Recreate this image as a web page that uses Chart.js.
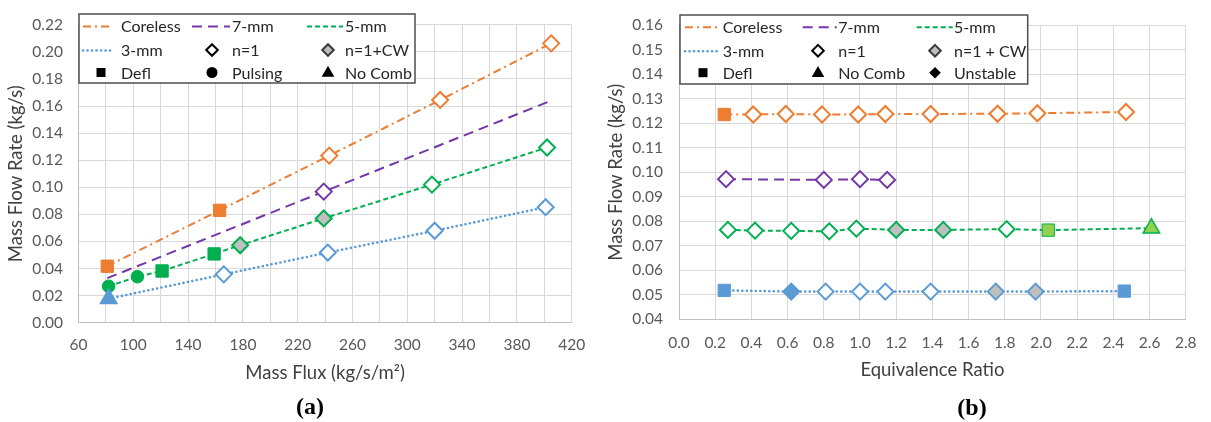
<!DOCTYPE html>
<html>
<head>
<meta charset="utf-8">
<script src="https://cdn.jsdelivr.net/npm/chart.js@4.4.1/dist/chart.umd.min.js"></script>
<style>
  html, body { margin: 0; padding: 0; background: #ffffff; }
  #wrap { position: relative; width: 1211px; height: 422px; overflow: hidden; }
  canvas { position: absolute; top: 0; }
  #chartA { left: 0; }
  #chartB { left: 600px; }
  .tag {
    position: absolute;
    font-family: 'Liberation Serif', 'Times New Roman', serif;
    font-weight: bold;
    font-size: 24px;
    line-height: 24px;
    color: #000;
    transform: translate(-50%, -50%);
    white-space: nowrap;
  }
</style>
</head>
<body>
<div id="wrap">
  <canvas id="chartA" width="600" height="422"></canvas>
  <canvas id="chartB" width="611" height="422"></canvas>
  <div class="tag" style="left:310px; top:406px;">(a)</div>
  <div class="tag" style="left:972px; top:407px;">(b)</div>
</div>
<script>
// ---------- (a) mass flow rate vs mass flux ----------
const fluxCoreless  = [81, 163, 243, 324, 405];
const rateCorelessA = [0.0417, 0.0830, 0.1234, 0.1645, 0.2063];
const markCorelessA = ['Defl', 'Defl', 'n=1', 'n=1', 'n=1'];

const flux7mm  = [81, 239, 405];
const rate7mmA = [0.0329, 0.0968, 0.1640];
const mark7mmA = [null, 'n=1', null];

const flux5mm  = [82, 103, 121, 159, 178, 239, 318, 402];
const rate5mmA = [0.0269, 0.0340, 0.0382, 0.0508, 0.0572, 0.0770, 0.1020, 0.1294];
const mark5mmA = ['Pulsing', 'Pulsing', 'Defl', 'Defl', 'n=1+CW', 'n=1+CW', 'n=1', 'n=1'];

const flux3mm  = [82, 166, 242, 320, 401];
const rate3mmA = [0.0177, 0.0357, 0.0518, 0.0679, 0.0853];
const mark3mmA = ['No Comb', 'n=1', 'n=1', 'n=1', 'n=1'];

// ---------- (b) mass flow rate vs equivalence ratio ----------
const phiCoreless   = [0.25, 0.41, 0.59, 0.79, 0.99, 1.14, 1.39, 1.76, 1.98, 2.47];
const rateCorelessB = [0.1236, 0.1236, 0.1238, 0.1236, 0.1236, 0.1238, 0.1238, 0.1239, 0.1241, 0.1246];
const markCorelessB = ['Defl', 'n=1', 'n=1', 'n=1', 'n=1', 'n=1', 'n=1', 'n=1', 'n=1', 'n=1'];

const phi7mm   = [0.26, 0.80, 1.00, 1.15];
const rate7mmB = [0.0972, 0.0969, 0.0972, 0.0969];
const mark7mmB = ['n=1', 'n=1', 'n=1', 'n=1'];

const phi5mm   = [0.27, 0.42, 0.62, 0.83, 0.98, 1.20, 1.46, 1.81, 2.04, 2.61];
const rate5mmB = [0.0765, 0.0762, 0.0761, 0.0759, 0.0770, 0.0765, 0.0765, 0.0768, 0.0764, 0.0772];
const mark5mmB = ['n=1', 'n=1', 'n=1', 'n=1', 'n=1', 'n=1+CW', 'n=1+CW', 'n=1', 'Defl', 'No Comb'];

const phi3mm   = [0.25, 0.62, 0.81, 1.00, 1.14, 1.39, 1.75, 1.97, 2.46];
const rate3mmB = [0.0518, 0.0513, 0.0513, 0.0513, 0.0513, 0.0513, 0.0513, 0.0513, 0.0515];
const mark3mmB = ['Defl', 'Unstable', 'n=1', 'n=1', 'n=1', 'n=1', 'n=1+CW', 'n=1+CW', 'Defl'];

// ---------- axis ticks ----------
const fluxTicks = [60, 100, 140, 180, 220, 260, 300, 340, 380, 420];
const phiTicks  = [0.0, 0.2, 0.4, 0.6, 0.8, 1.0, 1.2, 1.4, 1.6, 1.8, 2.0, 2.2, 2.4, 2.6, 2.8];

// ---------- styling ----------
const FONT = 'Lato, "Open Sans", "Liberation Sans", sans-serif';
const TICK_COLOR = '#595959';
const TITLE_COLOR = '#404040';
const GRID_COLOR = '#D9D9D9';
const GREY_FILL = '#BFBFBF';

const LINES = {
  coreless: { color: '#ED7D31', dash: [8, 4, 2, 4], width: 2, cap: 'butt' },
  mm7:      { color: '#7436A8', dash: [10, 6],      width: 2, cap: 'butt' },
  mm5:      { color: '#00B050', dash: [5, 3],       width: 2, cap: 'butt' },
  mm3:      { color: '#5B9BD5', dash: [0.1, 4.4],   width: 2.6, cap: 'round' }
};

function markerFor(mark, color, solid) {
  switch (mark) {
    case 'n=1':      return { style: 'rectRot',  r: 8,   fill: '#FFFFFF', stroke: color, bw: 2 };
    case 'n=1+CW':   return { style: 'rectRot',  r: 8,   fill: GREY_FILL, stroke: color, bw: 2 };
    case 'Defl':     return { style: 'rect',     r: 8.7, fill: solid,     stroke: color, bw: 1 };
    case 'Pulsing':  return { style: 'circle',   r: 6.3, fill: solid,     stroke: color, bw: 1 };
    case 'No Comb':  return { style: 'triangle', r: 9.5, fill: solid,     stroke: color, bw: 1.5 };
    case 'Unstable': return { style: 'rectRot',  r: 8,   fill: color,     stroke: color, bw: 2 };
    default:         return { style: 'circle',   r: 0,   fill: color,     stroke: color, bw: 0 };
  }
}

function series(label, xs, ys, marks, line, solidFill) {
  const solid = solidFill || line.color;
  const m = marks.map(k => markerFor(k, line.color, solid));
  return {
    label,
    data: xs.map((x, i) => ({ x, y: ys[i] })),
    showLine: true,
    borderColor: line.color,
    borderWidth: line.width,
    borderDash: line.dash,
    borderCapStyle: line.cap,
    tension: 0,
    fill: false,
    pointStyle: m.map(p => p.style),
    pointRadius: m.map(p => p.r),
    pointBackgroundColor: m.map(p => p.fill),
    pointBorderColor: m.map(p => p.stroke),
    pointBorderWidth: m.map(p => p.bw),
    pointHoverRadius: m.map(p => p.r)
  };
}

// ---------- boxed legend drawn on the canvas ----------
function drawSymbol(ctx, kind, x, y) {
  ctx.save();
  ctx.setLineDash([]);
  ctx.beginPath();
  if (kind === 'n=1' || kind === 'n=1+CW' || kind === 'Unstable') {
    const r = 5.8;
    ctx.moveTo(x, y - r); ctx.lineTo(x + r, y); ctx.lineTo(x, y + r); ctx.lineTo(x - r, y); ctx.closePath();
    if (kind === 'Unstable') {
      ctx.fillStyle = '#000'; ctx.fill();
    } else {
      ctx.fillStyle = kind === 'n=1' ? '#FFFFFF' : GREY_FILL;
      ctx.fill();
      ctx.lineWidth = 2;
      ctx.strokeStyle = kind === 'n=1' ? '#000' : '#3A3A3A';
      ctx.stroke();
    }
  } else if (kind === 'Defl') {
    ctx.fillStyle = '#000'; ctx.fillRect(x - 4.5, y - 4.5, 9, 9);
  } else if (kind === 'Pulsing') {
    ctx.arc(x, y, 5.5, 0, Math.PI * 2); ctx.fillStyle = '#000'; ctx.fill();
  } else if (kind === 'No Comb') {
    const r = 7;
    ctx.moveTo(x, y - r * 0.95);
    ctx.lineTo(x + r * 0.9, y + r * 0.6);
    ctx.lineTo(x - r * 0.9, y + r * 0.6);
    ctx.closePath(); ctx.fillStyle = '#000'; ctx.fill();
  }
  ctx.restore();
}

const boxLegend = {
  id: 'boxLegend',
  afterDraw(chart, args, opts) {
    const ctx = chart.ctx;
    const [x0, y0, x1, y1] = opts.box;
    ctx.save();
    ctx.fillStyle = '#FFFFFF';
    ctx.fillRect(x0, y0, x1 - x0, y1 - y0);
    ctx.lineWidth = 1.5;
    ctx.strokeStyle = '#4D4D4D';
    ctx.strokeRect(x0, y0, x1 - x0, y1 - y0);
    ctx.font = '16px ' + FONT;
    ctx.textBaseline = 'middle';
    ctx.textAlign = 'left';
    opts.items.forEach(it => {
      const col = opts.cols[it.col];
      const y = opts.rows[it.row];
      if (it.line) {
        const ln = LINES[it.line];
        ctx.save();
        ctx.strokeStyle = ln.color;
        ctx.lineWidth = ln.width;
        ctx.lineCap = ln.cap;
        ctx.setLineDash(ln.dash);
        ctx.beginPath();
        ctx.moveTo(col.s0, y + 0.5);
        ctx.lineTo(col.s1, y + 0.5);
        ctx.stroke();
        ctx.restore();
      } else {
        drawSymbol(ctx, it.mark, col.sym, y);
      }
      ctx.fillStyle = '#262626';
      ctx.fillText(it.text, col.text, y + 1);
    });
    ctx.restore();
  }
};

function legendItems(markTexts) {
  return [
    { col: 0, row: 0, line: 'coreless', text: 'Coreless' },
    { col: 1, row: 0, line: 'mm7', text: '7-mm' },
    { col: 2, row: 0, line: 'mm5', text: '5-mm' },
    { col: 0, row: 1, line: 'mm3', text: '3-mm' },
    ...markTexts
  ];
}

// ---------- shared axis builders ----------
function xAxis(min, max, step, title, fmt, height, tickPad, titlePad) {
  return {
    type: 'linear', min, max,
    ticks: {
      stepSize: step, autoSkip: false, maxRotation: 0, minRotation: 0,
      color: TICK_COLOR, font: { family: FONT, size: 15.5 }, padding: tickPad,
      callback: fmt
    },
    grid: { color: GRID_COLOR, lineWidth: 1, drawTicks: false },
    border: { color: GREY_FILL, width: 1 },
    title: {
      display: true, text: title, color: TITLE_COLOR,
      font: { family: FONT, size: 18.5 }, padding: { top: 0, bottom: titlePad }
    },
    afterFit(scale) { scale.height = height; }
  };
}

function yAxis(min, max, step, width, tickPad) {
  return {
    type: 'linear', min, max,
    ticks: {
      stepSize: step, autoSkip: false,
      color: TICK_COLOR, font: { family: FONT, size: 15.5 }, padding: tickPad,
      callback: v => Number(v).toFixed(2)
    },
    grid: { color: GRID_COLOR, lineWidth: 1, drawTicks: false },
    border: { color: GREY_FILL, width: 1 },
    title: {
      display: true, text: 'Mass Flow Rate (kg/s)', color: TITLE_COLOR,
      font: { family: FONT, size: 18.5 }, padding: { top: 5, bottom: 0 }
    },
    afterFit(scale) { scale.width = width; }
  };
}

const baseOptions = {
  responsive: false,
  animation: false,
  devicePixelRatio: 1,
  events: []
};

// ---------- chart (a) ----------
new Chart(document.getElementById('chartA'), {
  type: 'scatter',
  data: {
    datasets: [
      series('3-mm', flux3mm, rate3mmA, mark3mmA, LINES.mm3),
      series('5-mm', flux5mm, rate5mmA, mark5mmA, LINES.mm5),
      series('7-mm', flux7mm, rate7mmA, mark7mmA, LINES.mm7),
      series('Coreless', fluxCoreless, rateCorelessA, markCorelessA, LINES.coreless)
    ]
  },
  options: {
    ...baseOptions,
    layout: { padding: { top: 15, right: 28.3, left: 0, bottom: 0 } },
    scales: {
      x: xAxis(60, 420, 20, 'Mass Flux (kg/s/m\u00B2)',
        v => fluxTicks.includes(Math.round(v)) ? String(Math.round(v)) : '',
        99.3, 13, 38),
      y: yAxis(0, 0.22, 0.02, 78.5, 15.5)
    },
    plugins: {
      legend: { display: false },
      tooltip: { enabled: false },
      boxLegend: {
        box: [79, 14, 415, 83],
        rows: [26, 50, 72.5],
        cols: [
          { s0: 83, s1: 113, sym: 101, text: 121 },
          { s0: 192, s1: 230, sym: 212, text: 232 },
          { s0: 307, s1: 343, sym: 328, text: 345 }
        ],
        items: legendItems([
          { col: 1, row: 1, mark: 'n=1', text: 'n=1' },
          { col: 2, row: 1, mark: 'n=1+CW', text: 'n=1+CW' },
          { col: 0, row: 2, mark: 'Defl', text: 'Defl' },
          { col: 1, row: 2, mark: 'Pulsing', text: 'Pulsing' },
          { col: 2, row: 2, mark: 'No Comb', text: 'No Comb' }
        ])
      }
    }
  },
  plugins: [boxLegend]
});

// ---------- chart (b) ----------
new Chart(document.getElementById('chartB'), {
  type: 'scatter',
  data: {
    datasets: [
      series('3-mm', phi3mm, rate3mmB, mark3mmB, LINES.mm3),
      series('5-mm', phi5mm, rate5mmB, mark5mmB, LINES.mm5, '#92D050'),
      series('7-mm', phi7mm, rate7mmB, mark7mmB, LINES.mm7),
      series('Coreless', phiCoreless, rateCorelessB, markCorelessB, LINES.coreless)
    ]
  },
  options: {
    ...baseOptions,
    layout: { padding: { top: 15.7, right: 18.3, left: 0, bottom: 0 } },
    scales: {
      x: xAxis(0, 2.8, 0.2, 'Equivalence Ratio',
        v => Number(v).toFixed(1),
        102.7, 14.4, 41),
      y: yAxis(0.04, 0.16, 0.01, 79, 16)
    },
    plugins: {
      legend: { display: false },
      tooltip: { enabled: false },
      boxLegend: {
        box: [80, 15, 427.7, 84],
        rows: [26.7, 50.7, 72.7],
        cols: [
          { s0: 85, s1: 117, sym: 103, text: 122.7 },
          { s0: 202.7, s1: 236.7, sym: 218, text: 238.3 },
          { s0: 316.7, s1: 352.7, sym: 335, text: 354 }
        ],
        items: legendItems([
          { col: 1, row: 1, mark: 'n=1', text: 'n=1' },
          { col: 2, row: 1, mark: 'n=1+CW', text: 'n=1 + CW' },
          { col: 0, row: 2, mark: 'Defl', text: 'Defl' },
          { col: 1, row: 2, mark: 'No Comb', text: 'No Comb' },
          { col: 2, row: 2, mark: 'Unstable', text: 'Unstable' }
        ])
      }
    }
  },
  plugins: [boxLegend]
});
</script>
</body>
</html>
